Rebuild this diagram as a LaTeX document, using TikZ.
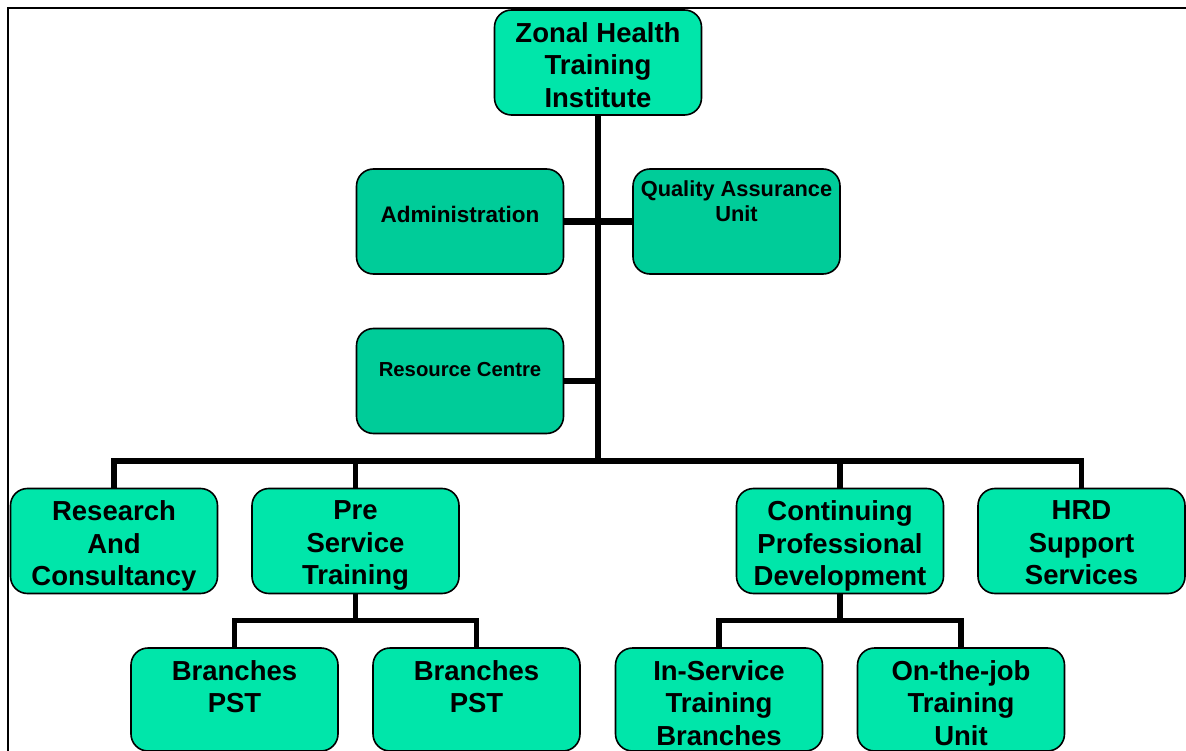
\documentclass[tikz,border=0pt]{standalone}
\usepackage{fontspec}
\setmainfont{Liberation Sans}
\usetikzlibrary{calc}
\usetikzlibrary{backgrounds}

\definecolor{mintbox}{RGB}{0,230,170}
\definecolor{darkmint}{RGB}{0,204,153}

\tikzset{
  unitbox/.style={draw=black, line width=1.6pt, rounded corners=17pt, inner sep=0pt,
    minimum width=207pt, minimum height=105pt},
  bright/.style={unitbox, fill=mintbox},
  dark/.style={unitbox, fill=darkmint},
  bigtxt/.style={anchor=north, inner sep=0pt, align=center, font=\fontsize{27.5}{32.5}\selectfont\bfseries},
  smalltxt/.style={inner sep=0pt, align=center, font=\fontsize{21.8}{25}\selectfont\bfseries},
  link/.style={line width=5.5pt},
  trunk/.style={line width=6.5pt}
}

\begin{document}
\begin{tikzpicture}[x=1pt, y=-1pt]
\useasboundingbox (0,0) rectangle (1186,751);
% frame
\draw[line width=2pt] (1186,8) -- (8,8) -- (8,751);

% top
\node[bright] (zhti) at (598,62.5) {};
\node[bigtxt] (zhtitxt) at ([yshift=-13pt]zhti.north) {Zonal Health\\Training\\Institute};

% staff units
\node[dark] (admin) at (460,221.5) {};
\node[smalltxt, font=\fontsize{22.5}{25}\selectfont\bfseries] (admintxt) at ([yshift=7.5pt]admin.center) {Administration};
\node[dark] (qa) at (736.5,221.5) {};
\node[smalltxt] (qatxt) at ([yshift=20pt]qa.center) {Quality Assurance\\Unit};
\node[dark] (res) at (460,381) {};
\node[smalltxt, font=\fontsize{20.3}{25}\selectfont\bfseries] (restxt) at ([yshift=11pt]res.center) {Resource Centre};

% second level
\node[bright] (research) at (114,541) {};
\node[bigtxt] (researchtxt) at ([yshift=-13pt]research.north) {Research\\And\\Consultancy};
\node[bright] (pst) at (355.5,541) {};
\node[bigtxt] (psttxt) at ([yshift=-13pt]pst.north) {Pre\\Service\\Training};
\node[bright] (cpd) at (840,541) {};
\node[bigtxt] (cpdtxt) at ([yshift=-13pt]cpd.north) {Continuing\\Professional\\Development};
\node[bright] (hrd) at (1081.5,541) {};
\node[bigtxt] (hrdtxt) at ([yshift=-13pt]hrd.north) {HRD\\Support\\Services};

% third level
\node[bright, minimum height=103pt] (brA) at (234.5,699.5) {};
\node[bigtxt] (brAtxt) at ([yshift=-13pt]brA.north) {Branches\\PST};
\node[bright, minimum height=103pt] (brB) at (476.5,699.5) {};
\node[bigtxt] (brBtxt) at ([yshift=-13pt]brB.north) {Branches\\PST};
\node[bright, minimum height=103pt] (isb) at (719,699.5) {};
\node[bigtxt] (isbtxt) at ([yshift=-13pt]isb.north) {In-Service\\Training\\Branches};
\node[bright, minimum height=103pt] (ojt) at (961,699.5) {};
\node[bigtxt] (ojttxt) at ([yshift=-13pt]ojt.north) {On-the-job\\Training\\Unit};

% connectors
\begin{scope}[on background layer]
\coordinate (hub) at (598,461);
\draw[trunk] (zhti.south) -- (hub);
\draw[trunk] (admin.east) -- (qa.west);
\draw[trunk] (res.east) -- (res.east -| zhti.south);
\draw[link] (research.north) -- (research.north |- hub) -- (hrd.north |- hub) -- (hrd.north);
\draw[link] (pst.north) -- (pst.north |- hub);
\draw[link] (cpd.north) -- (cpd.north |- hub);
\coordinate (pstbus) at ($(pst.south)+(0,26)$);
\draw[link] (pst.south) -- (pstbus);
\draw[link] (brA.north) -- (brA.north |- pstbus) -- (brB.north |- pstbus) -- (brB.north);
\coordinate (cpdbus) at ($(cpd.south)+(0,26)$);
\draw[link] (cpd.south) -- (cpdbus);
\draw[link] (isb.north) -- (isb.north |- cpdbus) -- (ojt.north |- cpdbus) -- (ojt.north);
\end{scope}
\end{tikzpicture}
\end{document}
